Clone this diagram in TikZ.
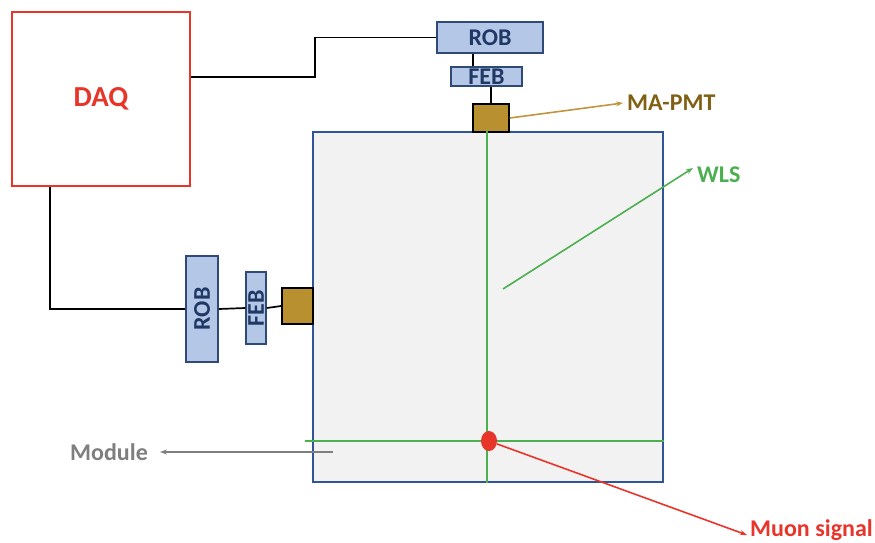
\documentclass[tikz,border=0pt]{standalone}
\usepackage{fontspec}
\setmainfont{Carlito}
\usetikzlibrary{arrows.meta,shapes.geometric}

\definecolor{robfill}{HTML}{B4C7E7}
\definecolor{robline}{HTML}{2F4A78}
\definecolor{robtext}{HTML}{1F3864}
\definecolor{pmtfill}{HTML}{B8902F}
\definecolor{pmttext}{HTML}{7F6014}
\definecolor{pmtarrow}{HTML}{BE9640}
\definecolor{wlsgreen}{HTML}{4CAF50}
\definecolor{daqred}{HTML}{E8352A}
\definecolor{modfill}{HTML}{F2F2F2}
\definecolor{modline}{HTML}{2F5597}
\definecolor{modgray}{HTML}{7F7F7F}

\begin{document}
\begin{tikzpicture}[
		x=1pt, y=-1pt,
		every node/.style = {inner sep=0pt, font=\bfseries},
		board/.style = {shape=rectangle, draw=robline, fill=robfill,
				line width=1.6pt, text=robtext, font=\bfseries\fontsize{24}{24}\selectfont},
		pmt/.style = {shape=rectangle, draw=black, fill=pmtfill, line width=1.6pt},
		label/.style = {anchor=west, font=\bfseries\fontsize{24}{24}\selectfont},
		wire/.style = {draw=black, line width=1.7pt},
		pointer/.style = {line width=1.6pt, -{Stealth[length=7pt,width=5pt]}}
	]
	\useasboundingbox (0,0) rectangle (875,542);

	\node[draw=daqred, line width=1.6pt, fill=white, minimum width=178pt, minimum height=174pt,
		text=daqred, font=\bfseries\fontsize{29}{29}\selectfont] (daq) at (101,99) {DAQ};

	\node[shape=rectangle, draw=modline, fill=modfill, line width=1.6pt,
		minimum width=350pt, minimum height=350pt] (module) at (488,307) {};

	\node[board, minimum width=106pt, minimum height=31pt] (robT) at (490,37.5) {ROB};
	\node[board, minimum width=71pt, minimum height=19pt] (febT) at (486.5,76.5) {FEB};
	\node[pmt, minimum width=36pt, minimum height=28pt] (pmtT) at (491,118) {};

	\node[board, minimum width=106pt, minimum height=32pt, rotate=90] (robL) at (202,309) {ROB};
	\node[board, minimum width=72pt, minimum height=20pt, rotate=90] (febL) at (256,308) {FEB};
	\node[pmt, minimum width=31pt, minimum height=36pt] (pmtL) at (297.5,306) {};

	% fibres
	\draw[wlsgreen, line width=1.7pt] ([xshift=-1pt]module.north) -- ([xshift=-1pt]module.south);
	\coordinate (hit) at (489,441);
	\draw[wlsgreen, line width=1.7pt] ([xshift=-7pt]module.west |- hit) -- (module.east |- hit);
	\node[shape=ellipse, fill=daqred, minimum width=16pt, minimum height=20pt] (muon) at (hit) {};

	% readout
	\draw[wire] ([yshift=22pt]daq.east) -- ++(124,0) |- (robT.west);
	\draw[wire] ([xshift=-51pt]daq.south) |- (robL.north);
	\draw[wire] ([xshift=-17pt]robT.south) -- ([xshift=-17pt]robT.south |- febT.north);
	\draw[wire] (pmtT.north) -- (pmtT.north |- febT.south);
	\draw[wire] (robL.south) -- (febL.north);
	\draw[wire] (febL.south) -- (pmtL.west);

	% labels
	\node[label, text=pmttext] (pmtname) at (627,103) {MA-PMT};
	\draw[pointer, pmtarrow] (pmtT.east) -- ([xshift=-4pt]pmtname.west);

	\node[label, text=wlsgreen] (wlsname) at (697,175) {WLS};
	\coordinate (fibre) at (503,289);
	\draw[pointer, wlsgreen] (fibre) -- ([xshift=-4pt,yshift=7pt]wlsname.west);

	\node[label, text=modgray] (modname) at (70,452) {Module};
	\coordinate (modpoint) at (333,452);
	\draw[pointer, modgray, line width=1.3pt] (modpoint) -- ([xshift=12pt]modname.east);

	\node[label, text=daqred] (muonname) at (750,530) {Muon signal};
	\draw[pointer, daqred] (muon) -- ([xshift=-3pt,yshift=-5pt]muonname.west);
\end{tikzpicture}
\end{document}
